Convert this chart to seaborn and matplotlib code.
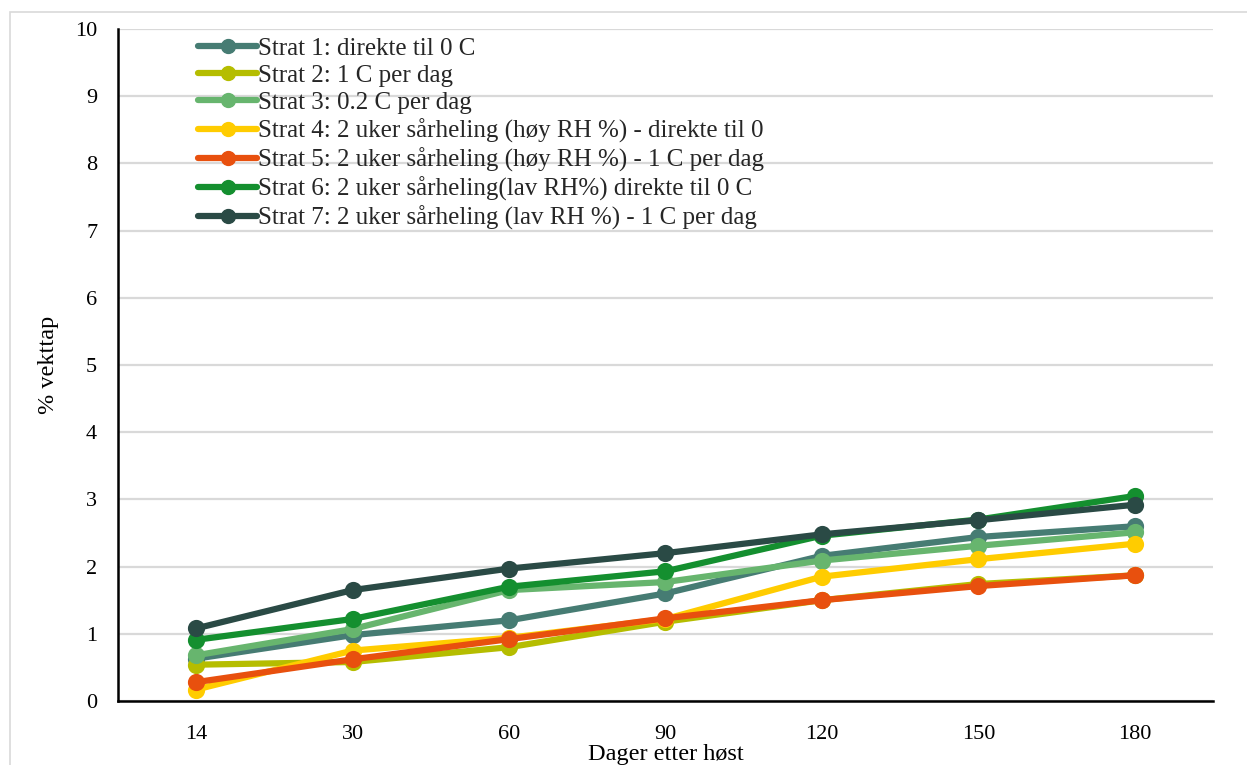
import matplotlib
matplotlib.use("Agg")
import matplotlib.pyplot as plt
from matplotlib.lines import Line2D
from matplotlib.patches import Rectangle
import seaborn as sns
import pandas as pd

days = ["14", "30", "60", "90", "120", "150", "180"]
labels = [
    "Strat 1: direkte til 0 C",
    "Strat 2: 1 C per dag",
    "Strat 3: 0.2 C per dag",
    "Strat 4: 2 uker sårheling (høy RH %) - direkte til 0",
    "Strat 5: 2 uker sårheling (høy RH %) - 1 C per dag",
    "Strat 6: 2 uker sårheling(lav RH%) direkte til 0 C",
    "Strat 7: 2 uker sårheling (lav RH %) - 1 C per dag",
]
strat1 = [0.63, 0.98, 1.20, 1.60, 2.16, 2.44, 2.60]
strat2 = [0.54, 0.58, 0.80, 1.18, 1.50, 1.74, 1.87]
strat3 = [0.68, 1.07, 1.65, 1.77, 2.09, 2.31, 2.51]
strat4 = [0.17, 0.75, 0.94, 1.22, 1.85, 2.11, 2.34]
strat5 = [0.28, 0.62, 0.92, 1.23, 1.50, 1.71, 1.87]
strat6 = [0.91, 1.22, 1.70, 1.93, 2.46, 2.70, 3.05]
strat7 = [1.08, 1.65, 1.97, 2.20, 2.48, 2.69, 2.92]
colors = ["#467C73", "#B5BD00", "#67B56E", "#FFCC00", "#E8500E", "#148F2F", "#2A4A45"]

series = [strat1, strat2, strat3, strat4, strat5, strat6, strat7]
rows = []
for lab, vals in zip(labels, series):
    for d, v in zip(days, vals):
        rows.append({"Dager": d, "Vekttap": v, "Strategi": lab})
df = pd.DataFrame(rows)

sns.set_theme(style="white")
plt.rcParams["font.family"] = ["Liberation Serif", "DejaVu Serif"]

fig = plt.figure(figsize=(12.47, 7.65), dpi=100)
ax = fig.add_axes([0.0946, 0.0837, 0.8781, 0.8784])

sns.pointplot(data=df, x="Dager", y="Vekttap", hue="Strategi", order=days,
              hue_order=labels, palette=colors, markers="o", linestyles="-",
              linewidth=4.5, markersize=9, dodge=False, errorbar=None, ax=ax,
              legend=False)

ax.set_xlim(-0.5, 6.5)
ax.set_ylim(0, 10)
ax.set_yticks(range(0, 11))
ax.grid(axis="y", color="#D9D9D9", linewidth=1.6)
ax.grid(axis="x", visible=False)
ax.set_axisbelow(True)
for s in ["top", "right"]:
    ax.spines[s].set_visible(False)
for s in ["left", "bottom"]:
    ax.spines[s].set_color("black")
    ax.spines[s].set_linewidth(1.8)
ax.tick_params(axis="both", length=0, labelsize=16, colors="black")
ax.tick_params(axis="y", pad=15)
ax.tick_params(axis="x", pad=17)
ax.set_xlabel("Dager etter høst", fontsize=17.5, color="black")
ax.xaxis.set_label_coords(0.5, -0.064)
ax.set_ylabel("% vekttap", fontsize=17.5, color="black")
ax.yaxis.set_label_coords(-0.054, 0.5)

handles = [Line2D([0], [0], color=c, lw=4.5, marker="o", markersize=10) for c in colors]
ax.legend(handles, labels, loc="upper left", bbox_to_anchor=(0.0644, 1.002),
          frameon=False, fontsize=18, handlelength=2.35, handletextpad=0.05,
          labelspacing=0.18, borderaxespad=0)

fig.patches.append(Rectangle((10 / 1247, -0.01), 1.05, 1 - 12 / 765 + 0.01,
                             transform=fig.transFigure, fill=False,
                             edgecolor="#D9D9D9", linewidth=1.2))

fig.savefig("out.png", dpi=100)
